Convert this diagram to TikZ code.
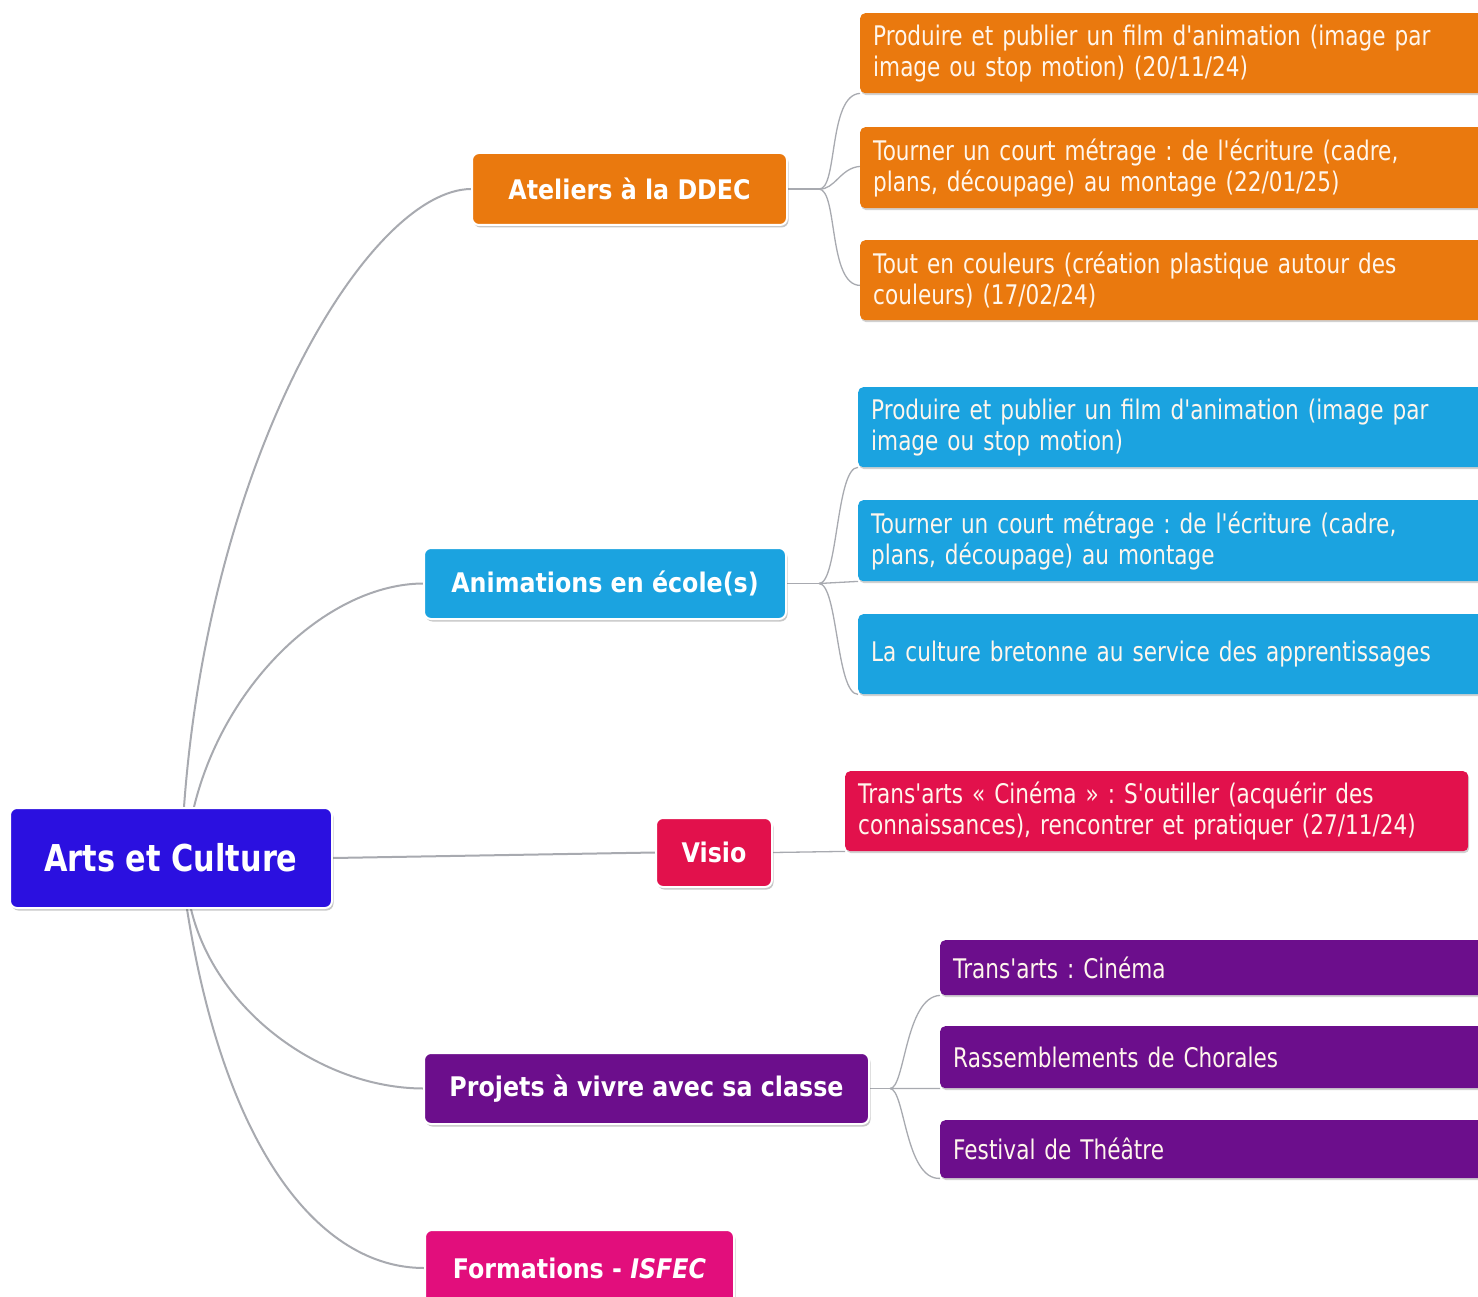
\documentclass[tikz,border=0pt]{standalone}
\usepackage{fontspec}
\usetikzlibrary{shadows,calc,backgrounds}
\newfontfamily\rootfont[FakeStretch=0.82]{DejaVu Sans}
\newfontfamily\labfont[FakeStretch=0.88]{DejaVu Sans}
\newfontfamily\leaffont[FakeStretch=0.80]{DejaVu Sans}
\frenchspacing
\definecolor{rootblue}{RGB}{43,16,224}
\definecolor{orangeC}{RGB}{234,121,14}
\definecolor{skyC}{RGB}{27,163,224}
\definecolor{redC}{RGB}{226,17,76}
\definecolor{purpleC}{RGB}{108,14,140}
\definecolor{magentaC}{RGB}{226,14,124}
\definecolor{linkgray}{RGB}{168,170,176}
\definecolor{leaftext}{RGB}{255,246,236}
\tikzset{
  box/.style={rounded corners=7pt, draw=white, line width=2pt, text=white, inner sep=0pt,
    drop shadow={shadow xshift=1.5pt, shadow yshift=-2.5pt, opacity=0.22, fill=black}},
  lab/.style={box, font=\labfont\bfseries\fontsize{27}{30}\selectfont},
  leafbox/.style={rounded corners=5pt, text=leaftext, inner xsep=13pt, inner ysep=0pt,
    align=left, anchor=north west, font=\leaffont\fontsize{27}{31}\selectfont\frenchspacing,
    drop shadow={shadow xshift=1pt, shadow yshift=-2pt, opacity=0.18, fill=black}},
  link/.style={draw=linkgray, line width=2pt},
  sublink/.style={draw=linkgray, line width=1.3pt},
}
\begin{document}
\begin{tikzpicture}[x=1pt,y=-1pt]
\useasboundingbox (0,0) rectangle (1478,1297);

% main nodes
\node[lab, fill=rootblue, minimum width=322pt, minimum height=100pt, font=\rootfont\bfseries\fontsize{37}{40}\selectfont] (root) at (171,858) {Arts et Culture};
\node[lab, fill=orangeC, minimum width=315pt, minimum height=72pt] (ateliers) at (629.5,189) {Ateliers à la DDEC};
\node[lab, fill=skyC, minimum width=362pt, minimum height=71pt] (anim) at (605,583.5) {Animations en école(s)};
\node[lab, fill=redC, minimum width=116pt, minimum height=69pt] (visio) at (714,852.5) {Visio};
\node[lab, fill=purpleC, minimum width=445pt, minimum height=71pt] (projets) at (646.5,1088.5) {Projets à vivre avec sa classe};
\node[lab, fill=magentaC, minimum width=309pt, minimum height=76pt] (form) at (579.5,1268) {Formations - \textit{ISFEC}};

% leaves
\node[leafbox, fill=orangeC, minimum width=630pt, minimum height=80pt, text width=604pt] (o1) at (860,13) {Produire et publier un film d'animation (image par\\image ou stop motion) (20/11/24)};
\node[leafbox, fill=orangeC, minimum width=630pt, minimum height=81pt, text width=604pt] (o2) at (860,127) {Tourner un court métrage : de l'écriture (cadre,\\plans, découpage) au montage (22/01/25)};
\node[leafbox, fill=orangeC, minimum width=630pt, minimum height=80pt, text width=604pt] (o3) at (860,240) {Tout en couleurs (création plastique autour des\\couleurs) (17/02/24)};

\node[leafbox, fill=skyC, minimum width=632pt, minimum height=80pt, text width=606pt] (b1) at (858,387) {Produire et publier un film d'animation (image par\\image ou stop motion)};
\node[leafbox, fill=skyC, minimum width=632pt, minimum height=81pt, text width=606pt] (b2) at (858,500) {Tourner un court métrage : de l'écriture (cadre,\\plans, découpage) au montage};
\node[leafbox, fill=skyC, minimum width=632pt, minimum height=80pt, text width=606pt] (b3) at (858,614) {La culture bretonne au service des apprentissages};

\node[leafbox, fill=redC, minimum width=623pt, minimum height=80pt, text width=597pt] (r1) at (845,771) {Trans'arts « Cinéma » : S'outiller (acquérir des\\connaissances), rencontrer et pratiquer (27/11/24)};

\node[leafbox, fill=purpleC, minimum width=550pt, minimum height=55pt, text width=524pt] (p1) at (940,940) {Trans'arts : Cinéma};
\node[leafbox, fill=purpleC, minimum width=550pt, minimum height=62pt, text width=524pt] (p2) at (940,1026) {Rassemblements de Chorales};
\node[leafbox, fill=purpleC, minimum width=550pt, minimum height=58pt, text width=524pt] (p3) at (940,1120) {Festival de Théâtre};

\begin{scope}[on background layer]
\fill[white] (0,0) rectangle (1478,1297);
% main connectors
\coordinate (rt1) at ([xshift=175pt]root.north west);
\coordinate (rt2) at ([xshift=185pt]root.north west);
\coordinate (rb1) at ([xshift=178pt]root.south west);
\coordinate (rb2) at ([xshift=182pt]root.south west);
\draw[link] (rt1) .. controls (210,450) and (370,190) .. (ateliers.west);
\draw[link] (rt2) .. controls (225,680) and (330,584) .. (anim.west);
\draw[link] (root.east) -- (visio.west);
\draw[link] (rb2) .. controls (215,1010) and (320,1088) .. (projets.west);
\draw[link] (rb1) .. controls (225,1150) and (320,1268) .. (form.west);

% sub connectors
\coordinate (oj) at ([xshift=31pt]ateliers.east);
\draw[sublink] (ateliers.east) -- (oj);
\draw[sublink] (oj) .. controls (838,190) and (828,95) .. (o1.south west);
\draw[sublink] (oj) .. controls (835,190) and (840,168) .. ([yshift=42pt]o2.south west);
\draw[sublink] (oj) .. controls (838,190) and (828,285) .. ([yshift=35pt]o3.south west);

\coordinate (bj) at ([xshift=32pt]anim.east);
\draw[sublink] (anim.east) -- (bj);
\draw[sublink] (bj) .. controls (838,584) and (836,467) .. (b1.south west);
\draw[sublink] (bj) -- (b2.south west);
\draw[sublink] (bj) .. controls (838,584) and (836,694) .. (b3.south west);

\draw[sublink] (visio.east) -- (r1.south west);

\coordinate (pj) at ([xshift=20pt]projets.east);
\draw[sublink] (projets.east) -- (pj);
\draw[sublink] (pj) .. controls (905,1089) and (905,997) .. (p1.south west);
\draw[sublink] (pj) -- (p2.south west);
\draw[sublink] (pj) .. controls (905,1089) and (905,1180) .. (p3.south west);
\end{scope}
\end{tikzpicture}
\end{document}
